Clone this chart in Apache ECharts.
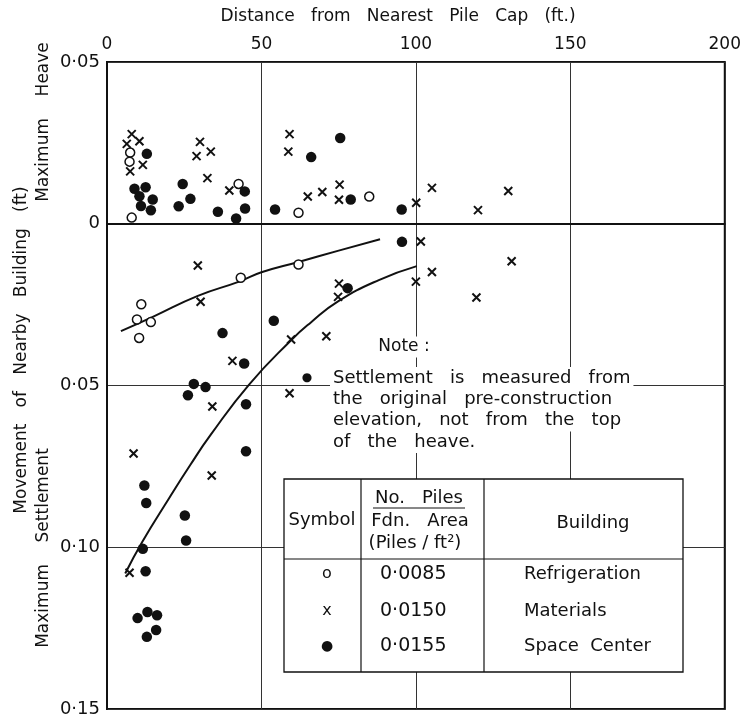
<!DOCTYPE html>
<html>
<head>
<meta charset="utf-8">
<title>Pile driving heave and settlement</title>
<script src="https://cdn.jsdelivr.net/npm/echarts@6/dist/echarts.min.js"></script>
<style>
  html, body { margin: 0; padding: 0; background: #fff; }
  #chart { width: 744px; height: 718px; }
</style>
</head>
<body>
<div id="chart"></div>
<script>
// distance from nearest pile cap (ft), movement (ft): + heave, - settlement
const refrigeration = [
  [7.5, 0.0220], [7.3, 0.0192], [8.0, 0.0019], [42.6, 0.0123], [62.0, 0.0034], [84.9, 0.0084],
  [43.3, -0.0167], [62.0, -0.0126], [11.1, -0.0249], [9.7, -0.0296], [14.2, -0.0304], [10.4, -0.0353]
];
const materials = [
  [8.0, 0.0277], [6.4, 0.0247], [10.5, 0.0255], [11.6, 0.0182], [7.5, 0.0162],
  [30.1, 0.0253], [29.0, 0.0209], [33.6, 0.0223], [32.5, 0.0141], [39.6, 0.0103],
  [59.1, 0.0277], [58.7, 0.0223], [65.0, 0.0084], [69.7, 0.0098], [75.3, 0.0121],
  [75.1, 0.0074], [100.1, 0.0065], [105.2, 0.0111], [120.1, 0.0042], [129.9, 0.0101],
  [101.6, -0.0055], [29.4, -0.0129], [30.3, -0.0241], [105.2, -0.0149], [131.0, -0.0116],
  [100.0, -0.0179], [75.1, -0.0185], [74.8, -0.0226], [119.6, -0.0228], [71.0, -0.0348],
  [59.6, -0.0358], [40.6, -0.0424], [59.1, -0.0524], [34.1, -0.0565], [8.6, -0.0710],
  [33.9, -0.0778], [7.3, -0.1079]
];
const spaceCenter = [
  [12.9, 0.0216], [8.9, 0.0108], [12.5, 0.0113], [10.5, 0.0085], [14.8, 0.0075],
  [11.0, 0.0055], [14.2, 0.0042], [24.5, 0.0123], [27.0, 0.0077], [23.2, 0.0054],
  [35.9, 0.0037], [41.8, 0.0016], [44.6, 0.0100], [44.7, 0.0047], [54.4, 0.0044],
  [66.1, 0.0206], [75.5, 0.0265], [78.9, 0.0075], [95.4, 0.0044],
  [95.5, -0.0056], [77.9, -0.0199], [54.0, -0.0300], [37.4, -0.0338], [44.4, -0.0432],
  [28.1, -0.0495], [31.9, -0.0505], [26.2, -0.0530], [45.0, -0.0558], [45.0, -0.0703],
  [12.1, -0.0809], [12.7, -0.0863], [25.2, -0.0902], [25.6, -0.0979], [11.6, -0.1005],
  [12.5, -0.1074], [9.9, -0.1219], [13.1, -0.1200], [16.2, -0.1210], [15.9, -0.1256],
  [12.9, -0.1277]
];
// hand drawn trend curves
const upperCurve = [
  [4.5, -0.0332], [15, -0.0287], [29.4, -0.0223], [43, -0.0178], [50, -0.0150],
  [62, -0.0118], [75, -0.0083], [88.4, -0.0048]
];
const lowerCurve = [
  [5.9, -0.1081], [11.3, -0.0985], [20, -0.0850], [27, -0.0745], [33.6, -0.0652],
  [46, -0.0497], [59.6, -0.0360], [66, -0.0305], [74.8, -0.0240], [88, -0.0174],
  [100.3, -0.0131]
];
const xTicks = [0, 50, 100, 150, 200];
const tableRows = [
  ['o', '0·0085', 'Refrigeration'],
  ['x', '0·0150', 'Materials'],
  ['●', '0·0155', 'Space  Center']
];
const noteLines = [
  'Settlement   is   measured   from',
  'the   original   pre-construction',
  'elevation,   not   from   the   top',
  'of   the   heave.'
];

const FONT = '"DejaVu Sans", sans-serif';
const INK = '#111';

const chart = echarts.init(document.getElementById('chart'));

function txt(x, y, text, size, extra) {
  return {
    type: 'text', x: x, y: y, z: 120,
    style: Object.assign({
      text: text, fill: INK, fontFamily: FONT, fontSize: size,
      textAlign: 'center', textVerticalAlign: 'middle'
    }, extra || {})
  };
}
function hline(x1, x2, y, w) {
  return { type: 'line', z: 110, shape: { x1: x1, y1: y, x2: x2, y2: y }, style: { stroke: INK, lineWidth: w || 1.2 } };
}
function vline(x, y1, y2, w) {
  return { type: 'line', z: 110, shape: { x1: x, y1: y1, x2: x, y2: y2 }, style: { stroke: INK, lineWidth: w || 1.2 } };
}

// legend table
const tbl = { left: 284, top: 479, right: 683, bottom: 672, c1: 361, c2: 484, head: 559 };
const graphics = [
  { type: 'rect', z: 105, shape: { x: tbl.left, y: tbl.top, width: tbl.right - tbl.left, height: tbl.bottom - tbl.top },
    style: { fill: '#fff', stroke: INK, lineWidth: 1.3 } },
  vline(tbl.c1, tbl.top, tbl.bottom),
  vline(tbl.c2, tbl.top, tbl.bottom),
  hline(tbl.left, tbl.right, tbl.head),
  txt(322, 520, 'Symbol', 18),
  txt(419, 498, 'No.   Piles', 18),
  hline(373, 465, 508, 1),
  txt(420, 521, 'Fdn.   Area', 18),
  txt(415, 543, '(Piles / ft²)', 18),
  txt(593, 523, 'Building', 18)
];
const rowY = [574, 611, 646];
tableRows.forEach(function (r, i) {
  graphics.push(txt(327, rowY[i], r[0], r[0] === '●' ? 14 : 16));
  graphics.push(txt(380, rowY[i], r[1], 19, { textAlign: 'left' }));
  graphics.push(txt(524, rowY[i], r[2], 18, { textAlign: 'left' }));
});

// note, white backing breaks the grid lines like in the original
graphics.push(txt(404, 347, 'Note :', 17, { backgroundColor: '#fff', padding: [2, 3] }));
graphics.push(txt(307, 378, '●', 12));
noteLines.forEach(function (s, i) {
  graphics.push(txt(330, 378 + i * 21.3, s, 18, { textAlign: 'left', backgroundColor: '#fff', padding: [2, 3] }));
});

// axis titles
graphics.push(txt(398, 17, 'Distance   from   Nearest   Pile   Cap   (ft.)', 17));
graphics.push(Object.assign(txt(22, 350, 'Movement   of   Nearby   Building   (ft)', 17), { rotation: Math.PI / 2 }));
graphics.push(Object.assign(txt(44, 122, 'Maximum    Heave', 17), { rotation: Math.PI / 2 }));
graphics.push(Object.assign(txt(44, 548, 'Maximum    Settlement', 17), { rotation: Math.PI / 2 }));

const crossPath = 'path://M0,0L10,10M10,0L0,10';

const option = {
  animation: false,
  backgroundColor: '#fff',
  grid: {
    left: 107, right: 19, top: 62, bottom: 6,
    show: true, borderColor: INK, borderWidth: 2, backgroundColor: 'transparent'
  },
  xAxis: {
    type: 'value', position: 'top',
    min: xTicks[0], max: xTicks[xTicks.length - 1], interval: 50,
    axisLine: { show: true, lineStyle: { color: INK, width: 2 } },
    axisTick: { show: false },
    axisLabel: { color: INK, fontFamily: FONT, fontSize: 17, margin: 9 },
    splitLine: { show: true, lineStyle: { color: '#333', width: 1 } }
  },
  yAxis: {
    type: 'value', min: -0.15, max: 0.05, interval: 0.05,
    axisLine: { show: true, lineStyle: { color: INK, width: 2 } },
    axisTick: { show: false },
    axisLabel: {
      color: INK, fontFamily: FONT, fontSize: 18, margin: 7,
      formatter: function (v) {
        if (Math.abs(v) < 1e-9) return '0';
        return Math.abs(v).toFixed(2).replace('.', '·');
      }
    },
    splitLine: { show: true, lineStyle: { color: '#333', width: 1 } }
  },
  series: [
    {
      name: 'Refrigeration', type: 'scatter', data: refrigeration,
      symbol: 'circle', symbolSize: 9,
      itemStyle: { color: '#fff', borderColor: INK, borderWidth: 1.5, opacity: 1 }
    },
    {
      name: 'Materials', type: 'scatter', data: materials,
      symbol: crossPath, symbolSize: 8,
      itemStyle: { color: INK, borderColor: INK, borderWidth: 2, opacity: 1 }
    },
    {
      name: 'Space Center', type: 'scatter', data: spaceCenter,
      symbol: 'circle', symbolSize: 10.5,
      itemStyle: { color: INK, opacity: 1 }
    },
    {
      type: 'line', data: upperCurve, smooth: true, showSymbol: false, z: 1,
      lineStyle: { color: INK, width: 2 }
    },
    {
      type: 'line', data: lowerCurve, smooth: true, showSymbol: false, z: 1,
      lineStyle: { color: INK, width: 2 }
    }
  ],
  graphic: graphics
};

chart.setOption(option);
window.addEventListener('resize', chart.resize);
</script>
</body>
</html>
